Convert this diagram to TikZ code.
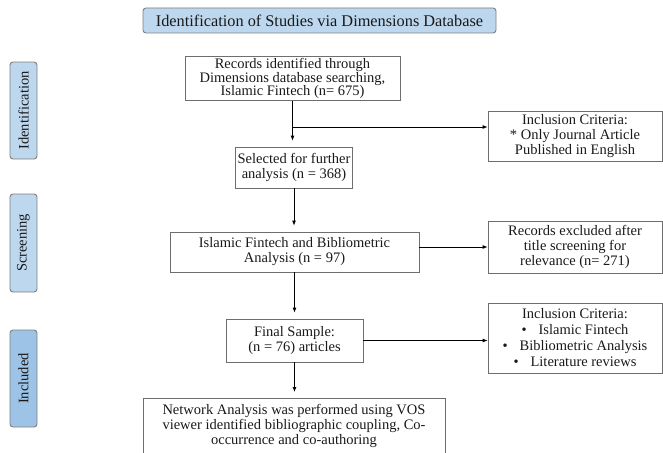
\documentclass[tikz,border=0pt]{standalone}
\usepackage{fontspec}
\setmainfont{Liberation Serif}
\usetikzlibrary{arrows.meta}
\definecolor{lblue}{HTML}{BDD7EE}
\definecolor{dblue}{HTML}{9DC3E6}
\definecolor{bordergray}{HTML}{7F7F7F}
\definecolor{boxgray}{HTML}{6E6E6E}
\begin{document}
\begin{tikzpicture}[x=1pt,y=-1pt,
  every node/.style={font=\fontsize{14.5}{15}\selectfont, text=black!90},
  flowbox/.style={draw=boxgray, line width=0.8pt, align=center, inner sep=2pt},
  phasebox/.style={draw=bordergray, line width=0.9pt, rounded corners=3pt, fill=lblue, rotate=90, minimum height=27pt, inner sep=0pt},
  arr/.style={line width=0.8pt, -{Latex[length=5pt,width=4pt]}},
  varr/.style={arr, shorten >=6pt}
]
\useasboundingbox (0,0) rectangle (663,452);

% title
\node[draw=bordergray, line width=0.9pt, rounded corners=3pt, fill=lblue,
  minimum width=353pt, minimum height=25pt, inner sep=0pt,
  font=\fontsize{16.3}{18}\selectfont] (title) at (319.5,20.5)
  {Identification of Studies via Dimensions Database};

% phase labels
\node[phasebox, minimum width=97pt] (pid) at (23.5,110.5) {Identification};
\node[phasebox, minimum width=98pt] (pscr) at (23.5,243) {Screening};
\node[phasebox, minimum width=97pt, fill=dblue] (pinc) at (23.5,378.5) {Included};

% main flow
\node[flowbox, minimum width=215pt, minimum height=41pt, font=\fontsize{14.5}{13.5}\selectfont] (b1) at (292.5,78.5)
  {Records identified through\\Dimensions database searching,\\Islamic Fintech (n= 675)};
\node[flowbox, minimum width=110pt, minimum height=41pt] (b2) at (294,167.5)
  {Selected for further\\analysis (n = 368)};
\node[flowbox, minimum width=249pt, minimum height=40pt] (b3) at (294.5,252)
  {Islamic Fintech and Bibliometric\\Analysis (n = 97)};
\node[flowbox, minimum width=137pt, minimum height=43pt] (b4) at (294.5,340.5)
  {Final Sample:\\(n = 76) articles};
\node[flowbox, minimum width=302pt, minimum height=58pt, anchor=north] (b5) at (294,398)
  {};
\node[align=center, anchor=north] (b5t) at (294,401)
  {Network Analysis was performed using VOS\\viewer identified bibliographic coupling, Co-\\occurrence and co-authoring};

% side boxes
\node[flowbox, minimum width=174pt, minimum height=50pt] (i1) at (575,136)
  {Inclusion Criteria:\\* Only Journal Article\\Published in English};
\node[flowbox, minimum width=174pt, minimum height=52pt] (ex) at (575,247)
  {Records excluded after\\title screening for\\relevance (n= 271)};
\node[flowbox, minimum width=174pt, minimum height=70pt, font=\fontsize{14.5}{16}\selectfont] (i2) at (575,338)
  {Inclusion Criteria:\\\textbullet\hspace{12pt}Islamic Fintech\\\textbullet\hspace{12pt}Bibliometric Analysis\\\textbullet\hspace{12pt}Literature reviews};

% connectors
\coordinate (j1) at (292.5,127);
\draw[varr] (b1.south) -- (b1.south |- b2.north);
\draw[arr] (j1) -- (j1 -| i1.west);
\draw[varr] (b2.south) -- (b2.south |- b3.north);
\draw[arr] (b3.east |- ex.west) -- (ex.west);
\draw[varr] (b3.south) -- (b3.south |- b4.north);
\draw[arr] (b4.east) -- (b4.east -| i2.west);
\draw[varr] (b4.south) -- (b4.south |- b5.north);
\end{tikzpicture}
\end{document}
